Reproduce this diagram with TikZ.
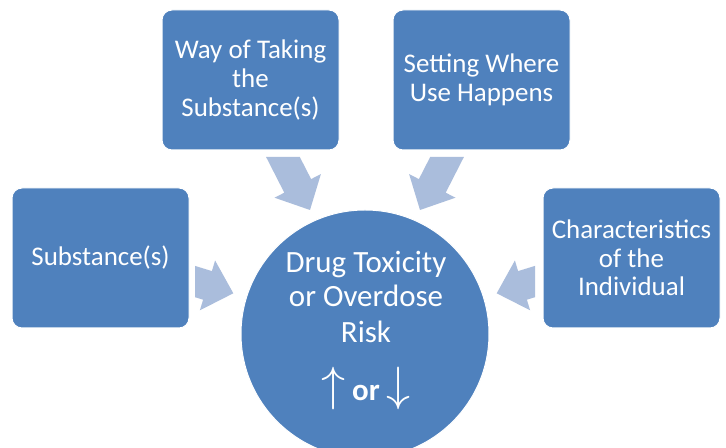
\documentclass[tikz,border=0pt]{standalone}
\usepackage{fontspec}
\setmainfont{Carlito}
\definecolor{boxblue}{RGB}{79,129,189}
\definecolor{arrowblue}{RGB}{170,189,220}
\newcommand{\bigarr}[1]{\scalebox{1.45}{\fontsize{24.88pt}{26pt}\selectfont$#1$}}
\begin{document}
\begin{tikzpicture}[x=0.75pt,y=-0.75pt,
  factorbox/.style={draw=white,line width=0.75pt,fill=boxblue,rounded corners=7.5pt,
    minimum width=132.75pt,minimum height=105pt,text=white,align=center,
    font=\fontsize{20.2pt}{21.4pt}\selectfont,inner sep=0pt},
  riskcircle/.style={circle,draw=white,line width=0.75pt,fill=boxblue,minimum size=186pt,inner sep=0pt},
  risktext/.style={text=white,inner sep=0pt,anchor=base,font=\fontsize{23.2pt}{26.2pt}\selectfont},
  blockarrow/.style={fill=arrowblue}]
\useasboundingbox[fill=white] (0,0) rectangle (726,448);
\begin{scope}
\clip (0,0) rectangle (726,448);
\node[riskcircle] (risk) at (365,334) {};
\end{scope}
\node[risktext] (riskA) at (366,273) {Drug Toxicity};
\node[risktext] (riskB) at (366,307) {or Overdose};
\node[risktext] (riskC) at (366,343) {Risk};
\node[risktext] (riskdir) at (366,401)
  {\bigarr{\uparrow}\hspace{5pt}{\bfseries or}\hspace{5pt}\bigarr{\downarrow}};
\node[factorbox] (way) at (250.5,80) {Way of Taking\\the\\Substance(s)};
\node[factorbox] (setting) at (481.5,80) {Setting Where\\Use Happens};
\node[factorbox] (subst) at (100.5,258) {Substance(s)};
\node[factorbox] (indiv) at (631.5,258) {Characteristics\\of the\\Individual};
% block arrows
\fill[blockarrow] (195,265.9) -- (211.9,271.1) -- (215.1,260.5) -- (233.3,293.3) -- (199.9,310.3) -- (203.1,299.7) -- (195,297.2) -- cycle;
\fill[blockarrow] (535,265.9) -- (518.1,271.1) -- (514.9,260.5) -- (496.7,293.3) -- (530.1,310.3) -- (526.9,299.7) -- (535,297.2) -- cycle;
\fill[blockarrow] (266.1,157) -- (299.8,157) -- (311.1,179.1) -- (320.9,174.1) -- (310,210) -- (274.5,197.7) -- (284.3,192.7) -- cycle;
\fill[blockarrow] (463.9,157) -- (430.2,157) -- (418.9,179.1) -- (409.1,174.1) -- (420,210) -- (455.5,197.7) -- (445.7,192.7) -- cycle;
\end{tikzpicture}
\end{document}
